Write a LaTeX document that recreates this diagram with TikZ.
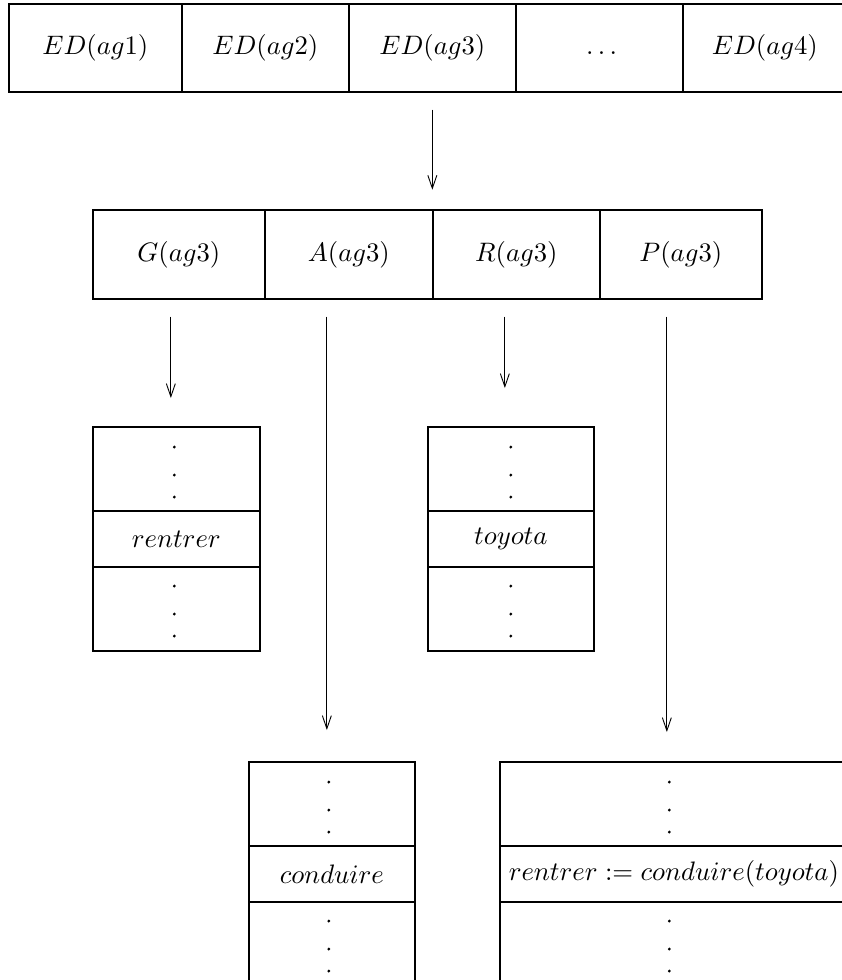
\documentclass[tikz,border=0pt]{standalone}
\usetikzlibrary{arrows.meta,calc}
% scalable math italic and roman at any size
\DeclareFontShape{OML}{cmm}{m}{it}{<->cmmi10}{}
\DeclareFontShape{OT1}{cmr}{m}{n}{<->cmr10}{}
\DeclareFontShape{OMS}{cmsy}{m}{n}{<->cmsy10}{}
\begin{document}
\begin{tikzpicture}[x=1pt,y=-1pt,
  cell/.style={draw, line width=1.7pt, inner sep=0pt, anchor=north west,
    font=\fontsize{26.7}{32}\selectfont},
  link/.style={line width=0.9pt,
    -{Straight Barb[length=13pt,width=9pt,line width=0.9pt]}},
  dotsize/.store in=\dotr, dotsize=1.6pt]
\useasboundingbox (0,0) rectangle (842,980);
\clip (0,0) rectangle (842,980);

% row of agent descriptors
\node[cell, minimum width=173pt, minimum height=88pt] (ed1) at (8,3)   {$ED(ag1)$};
\node[cell, minimum width=167pt, minimum height=88pt] (ed2) at (181,3) {$ED(ag2)$};
\node[cell, minimum width=167pt, minimum height=88pt] (ed3) at (348,3) {$ED(ag3)$};
\node[cell, minimum width=167pt, minimum height=88pt] (edd) at (515,3) {$\vphantom{ED(ag)}\ldots$};
\node[cell, minimum width=164pt, minimum height=88pt] (ed4) at (682,3) {$ED(ag4)$};

% components of agent 3
\node[cell, minimum width=172pt, minimum height=89pt] (g) at (92,209)  {$G(ag3)$};
\node[cell, minimum width=168pt, minimum height=89pt] (a) at (264,209) {$A(ag3)$};
\node[cell, minimum width=167pt, minimum height=89pt] (r) at (432,209) {$R(ag3)$};
\node[cell, minimum width=162pt, minimum height=89pt] (p) at (599,209) {$P(ag3)$};

% goal stack
\node[cell, minimum width=167pt, minimum height=84pt] (g1) at (92,426) {};
\node[cell, minimum width=167pt, minimum height=56pt] (g2) at (92,510) {$rentrer$};
\node[cell, minimum width=167pt, minimum height=84pt] (g3) at (92,566) {};

% resource stack
\node[cell, minimum width=166pt, minimum height=84pt] (r1) at (427,426) {};
\node[cell, minimum width=166pt, minimum height=56pt] (r2) at (427,510) {$toyota$};
\node[cell, minimum width=166pt, minimum height=84pt] (r3) at (427,566) {};

% action stack
\node[cell, minimum width=166pt, minimum height=84pt] (a1) at (248,761) {};
\node[cell, minimum width=166pt, minimum height=56pt] (a2) at (248,845) {$conduire$};
\node[cell, minimum width=166pt, minimum height=84pt] (a3) at (248,901) {};

% plan stack
\node[cell, minimum width=347pt, minimum height=84pt] (p1) at (499,761) {};
\node[cell, minimum width=347pt, minimum height=56pt] (p2) at (499,845) {\hspace*{1pt}$rentrer := conduire(toyota)$};
\node[cell, minimum width=347pt, minimum height=84pt] (p3) at (499,901) {};

% vertical ellipses in the open sections
\foreach \s/\dx in {g1/-2, r1/0, a1/-3, p1/-4} {
  \foreach \dy in {21,49,71}
    \fill ($(\s.north)+(\dx,\dy)$) circle (\dotr);
}
\foreach \s/\dx in {g3/-2, r3/0, a3/-3, p3/-4} {
  \foreach \dy in {20,48,70}
    \fill ($(\s.north)+(\dx,\dy)$) circle (\dotr);
}

% arrow end points
\coordinate (topS) at ($(ed3.south)+(0,17)$);
\coordinate (topE) at ($(ed3.south)+(0,97)$);
\coordinate (gS) at ($(g.south)+(-8,17)$);
\coordinate (gE) at ($(g1.north)+(0,-28)$);
\coordinate (aS) at ($(a.south)+(-22,17)$);
\coordinate (aE) at ($(a1.north)+(0,-31)$);
\coordinate (rS) at ($(r.south)+(-11.5,17)$);
\coordinate (rE) at ($(r1.north)+(0,-38)$);
\coordinate (pS) at ($(p.south)+(-14,17)$);
\coordinate (pE) at ($(p1.north)+(0,-29)$);

% arrows
\draw[link] (topS) -- (topE);
\draw[link] (gS) -- (gS |- gE);
\draw[link] (aS) -- (aS |- aE);
\draw[link] (rS) -- (rS |- rE);
\draw[link] (pS) -- (pS |- pE);
\end{tikzpicture}
\end{document}
